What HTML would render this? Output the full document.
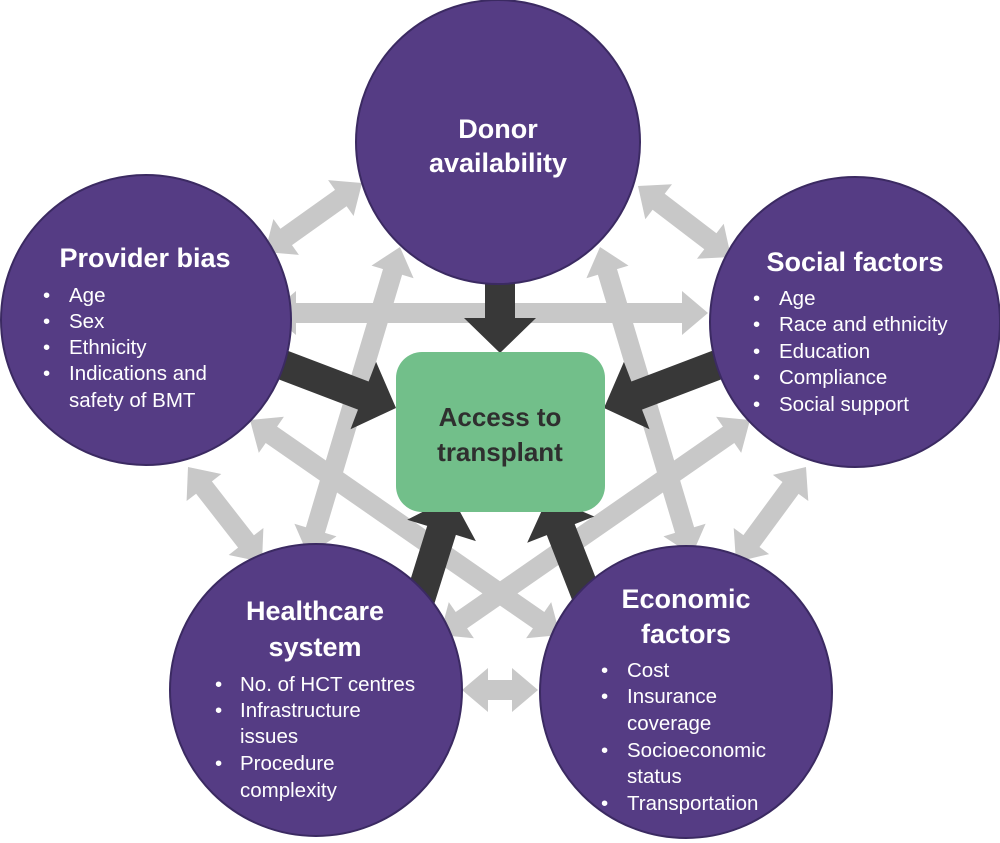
<!DOCTYPE html>
<html><head><meta charset="utf-8"><style>
html,body{margin:0;padding:0;background:#fff}
svg{display:block}
text{font-family:"Liberation Sans",sans-serif}
.t{fill:#fff;font-weight:bold;font-size:27px;text-anchor:middle}
.b{fill:#fff;font-size:20.5px}
</style></head><body>
<svg id="s" width="1000" height="843" viewBox="0 0 1000 843" xmlns="http://www.w3.org/2000/svg">
<g id="gray"></g>
<g id="dark"></g>
<g id="circ">
<circle cx="498" cy="142" r="142" fill="#553c84" stroke="#3b2a62" stroke-width="2"/>
<circle cx="146" cy="320" r="145" fill="#553c84" stroke="#3b2a62" stroke-width="2"/>
<circle cx="855" cy="322" r="145" fill="#553c84" stroke="#3b2a62" stroke-width="2"/>
<circle cx="316" cy="690" r="146" fill="#553c84" stroke="#3b2a62" stroke-width="2"/>
<circle cx="686" cy="692" r="146" fill="#553c84" stroke="#3b2a62" stroke-width="2"/>
</g>
<rect x="396" y="352" width="209" height="160" rx="26" fill="#72bf8a"/>
<text x="500" y="426" text-anchor="middle" font-weight="bold" font-size="26" fill="#2f2f2f">Access to</text>
<text x="500" y="461" text-anchor="middle" font-weight="bold" font-size="26" fill="#2f2f2f">transplant</text>

<text class="t" x="498" y="138">Donor</text>
<text class="t" x="498" y="172">availability</text>

<text class="t" x="145" y="267">Provider bias</text>
<text class="b" x="43" y="302">•</text><text class="b" x="69" y="302">Age</text>
<text class="b" x="43" y="328">•</text><text class="b" x="69" y="328">Sex</text>
<text class="b" x="43" y="354">•</text><text class="b" x="69" y="354">Ethnicity</text>
<text class="b" x="43" y="380">•</text><text class="b" x="69" y="380">Indications and</text>
<text class="b" x="69" y="407">safety of BMT</text>

<text class="t" x="855" y="271">Social factors</text>
<text class="b" x="753" y="305">•</text><text class="b" x="779" y="305">Age</text>
<text class="b" x="753" y="331">•</text><text class="b" x="779" y="331">Race and ethnicity</text>
<text class="b" x="753" y="358">•</text><text class="b" x="779" y="358">Education</text>
<text class="b" x="753" y="384">•</text><text class="b" x="779" y="384">Compliance</text>
<text class="b" x="753" y="411">•</text><text class="b" x="779" y="411">Social support</text>

<text class="t" x="315" y="620">Healthcare</text>
<text class="t" x="315" y="656">system</text>
<text class="b" x="215" y="691">•</text><text class="b" x="240" y="691">No. of HCT centres</text>
<text class="b" x="215" y="717">•</text><text class="b" x="240" y="717">Infrastructure</text>
<text class="b" x="240" y="743">issues</text>
<text class="b" x="215" y="770">•</text><text class="b" x="240" y="770">Procedure</text>
<text class="b" x="240" y="797">complexity</text>

<text class="t" x="686" y="608">Economic</text>
<text class="t" x="686" y="643">factors</text>
<text class="b" x="601" y="677">•</text><text class="b" x="627" y="677">Cost</text>
<text class="b" x="601" y="703">•</text><text class="b" x="627" y="703">Insurance</text>
<text class="b" x="627" y="730">coverage</text>
<text class="b" x="601" y="757">•</text><text class="b" x="627" y="757">Socioeconomic</text>
<text class="b" x="627" y="783">status</text>
<text class="b" x="601" y="810">•</text><text class="b" x="627" y="810">Transportation</text>
</svg>
<script>
var NS="http://www.w3.org/2000/svg";
function poly(g,pts,fill){var p=document.createElementNS(NS,"polygon");p.setAttribute("points",pts.map(function(a){return a[0].toFixed(1)+","+a[1].toFixed(1)}).join(" "));p.setAttribute("fill",fill);g.appendChild(p);}
function dbl(x1,y1,x2,y2){var g=document.getElementById("gray");var dx=x2-x1,dy=y2-y1,L=Math.hypot(dx,dy),ux=dx/L,uy=dy/L,nx=-uy,ny=ux;var w=10,hw=22,hl=26;
function P(t,o){return [x1+ux*t+nx*o,y1+uy*t+ny*o];}
poly(g,[P(0,0),P(hl,hw),P(hl,w),P(L-hl,w),P(L-hl,hw),P(L,0),P(L-hl,-hw),P(L-hl,-w),P(hl,-w),P(hl,-hw)],"#c8c8c8");}
function one(x1,y1,x2,y2){var g=document.getElementById("dark");var dx=x2-x1,dy=y2-y1,L=Math.hypot(dx,dy),ux=dx/L,uy=dy/L,nx=-uy,ny=ux;var w=15,hw=36,hl=35;
function P(t,o){return [x1+ux*t+nx*o,y1+uy*t+ny*o];}
poly(g,[P(0,w),P(L-hl,w),P(L-hl,hw),P(L,0),P(L-hl,-hw),P(L-hl,-w),P(0,-w)],"#383838");}
dbl(265,252,362,183);
dbl(638,186,731,257);
dbl(270,313,708,313);
dbl(188,467,262,562);
dbl(806,467,736,562);
dbl(462,690,538,690);
dbl(400,247,308,555);
dbl(600,247,692,555);
dbl(250,420,560,635);
dbl(750,420,440,635);
one(500,270,500,353);
one(262,357,396,408);
one(738,357,604,408);
one(412,625,452,497);
one(598,625,548,497);
</script>
</body></html>
